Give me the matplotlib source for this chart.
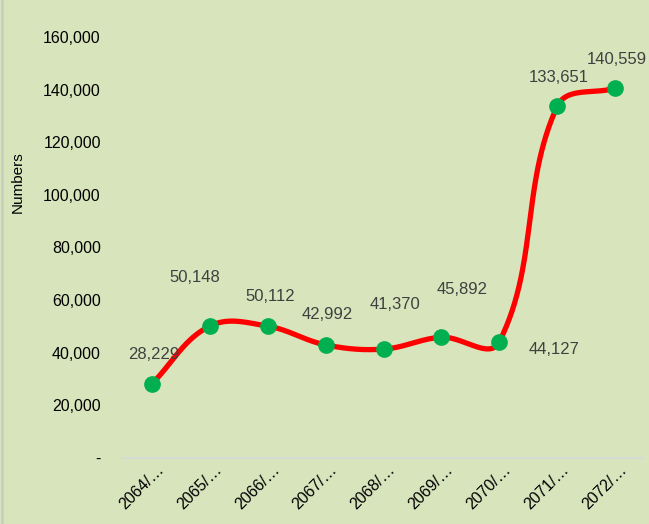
import matplotlib
matplotlib.use("Agg")
import matplotlib.pyplot as plt
import matplotlib.transforms as mtransforms
from matplotlib.lines import Line2D
import numpy as np
from matplotlib.ticker import FuncFormatter

# fiscal years (labels truncated as in the source chart)
years = ["2064/…", "2065/…", "2066/…", "2067/…", "2068/…",
         "2069/…", "2070/…", "2071/…", "2072/…"]
numbers = [28229, 50148, 50112, 42992, 41370, 45892, 44127, 133651, 140559]
# label offsets in pixels (dx, dy) relative to each point
label_dx = [2, -15, 2, 2, 11, 21, 55, 2, 2]
label_dy = [29, 49, 30, 30, 45, 48, -8, 29, 29]

bg = "#D8E4BC"
plt.rcParams['font.family'] = ['Liberation Sans', 'DejaVu Sans']

fig = plt.figure(figsize=(6.49, 5.24), dpi=100, facecolor=bg)
ax = fig.add_axes([123 / 649, 1 - 458 / 524, 521 / 649, 421 / 524])
ax.set_facecolor(bg)

x = np.arange(len(years))
ax.set_xlim(-0.5, len(years) - 0.5)
ax.set_ylim(0, 160000)
ax.set_yticks(np.arange(0, 160001, 20000))
ax.yaxis.set_major_formatter(FuncFormatter(lambda v, p: "-" if v == 0 else f"{int(v):,}"))

# smoothed line: bezier with tangents from neighbours, handle length
# proportional to segment length (screen space, roughly like Excel)
pts = ax.transData.transform(np.column_stack([x, numbers]))
n = len(pts)
tang = []
for i in range(n):
    d = pts[min(i + 1, n - 1)] - pts[max(i - 1, 0)]
    tang.append(d / np.hypot(*d))
k = 0.36
curve = []
for i in range(n - 1):
    p1, p2 = pts[i], pts[i + 1]
    L = np.hypot(*(p2 - p1))
    c1 = p1 + tang[i] * L * k
    c2 = p2 - tang[i + 1] * L * k
    t = np.linspace(0, 1, 60)[:, None]
    seg = (1 - t) ** 3 * p1 + 3 * (1 - t) ** 2 * t * c1 + 3 * (1 - t) * t ** 2 * c2 + t ** 3 * p2
    curve.append(seg if i == 0 else seg[1:])
curve = ax.transData.inverted().transform(np.vstack(curve))
ax.plot(curve[:, 0], curve[:, 1], color="#FF0000", lw=3.8, solid_capstyle="round", zorder=2)
ax.plot(x, numbers, "o", color="#00B050", ms=11, zorder=3)

for xi, v, dx, dy in zip(x, numbers, label_dx, label_dy):
    ax.annotate(f"{v:,}", (xi, v), xytext=(dx, dy), textcoords="offset pixels",
                ha="center", va="center", fontsize=12, color="#404040")

for s in ["top", "right", "left"]:
    ax.spines[s].set_visible(False)
ax.spines["bottom"].set_color("#D9D9D9")
ax.spines["bottom"].set_linewidth(1.2)
ax.tick_params(axis="both", length=0)
ax.tick_params(axis="y", pad=16, labelsize=11.5, labelcolor="black")
ax.set_xticks(x)
ax.set_xticklabels(years, rotation=45, ha="right", rotation_mode="anchor", fontsize=11.5)
ax.tick_params(axis="x", pad=3)
shift = mtransforms.ScaledTranslation(4 / 100, 0, fig.dpi_scale_trans)
for lab in ax.get_xticklabels():
    lab.set_transform(lab.get_transform() + shift)

fig.text(18 / 649, 1 - 182 / 524, "Numbers", rotation=90, ha="center", va="center", fontsize=11)

fig.add_artist(Line2D([1.5 / 649, 1.5 / 649], [0, 1], transform=fig.transFigure,
                      color="#C9CFC0", lw=2))

fig.savefig("out.png", dpi=100, facecolor=bg)
